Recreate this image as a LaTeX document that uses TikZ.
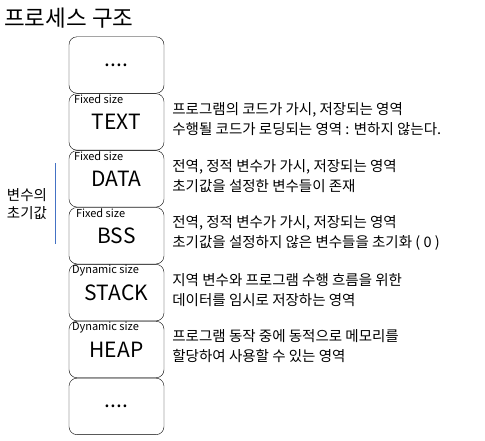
\documentclass[tikz,border=0pt]{standalone}
\usepackage{fontspec}
\setmainfont{Noto Sans CJK KR}
\usetikzlibrary{positioning}
\definecolor{markBlue}{RGB}{68,114,196}

\begin{document}
\begin{tikzpicture}[x=1pt,y=-1pt,
  seg/.style={rectangle,rounded corners=8pt,draw=black,minimum width=95pt,
              minimum height=56.5pt,inner sep=0pt,font=\fontsize{21}{23}\selectfont},
  sizetag/.style={anchor=north west,inner sep=0pt,font=\fontsize{11}{12}\selectfont},
  desc/.style={anchor=west,align=left,inner sep=0pt,font=\fontsize{14.5}{20}\selectfont},
  title/.style={anchor=west,inner sep=0pt,font=\fontsize{22.5}{24}\selectfont}
]
  \useasboundingbox (0,0) rectangle (485,440);
  \node[title](ttl) at (4,18) {프로세스 구조};
  % memory segments, top to bottom
  \node[seg](mtop) at (116.5,65) {....};
  \node[seg,below=0pt of mtop](mtext) {TEXT};
  \node[seg,below=0pt of mtext](mdata) {DATA};
  \node[seg,below=0pt of mdata](mbss) {BSS};
  \node[seg,below=0pt of mbss](mstack) {STACK};
  \node[seg,below=0pt of mstack](mheap) {HEAP};
  \node[seg,below=0pt of mheap](mbot) {....};
  % size tags
  \node[sizetag] at ([xshift=5pt,yshift=-1pt]mtext.north west) {Fixed size};
  \node[sizetag] at ([xshift=5pt,yshift=-1pt]mdata.north west) {Fixed size};
  \node[sizetag] at ([xshift=7pt,yshift=-1pt]mbss.north west) {Fixed size};
  \node[sizetag] at ([xshift=3pt,yshift=-1pt]mstack.north west) {Dynamic size};
  \node[sizetag] at ([xshift=3pt,yshift=-1pt]mheap.north west) {Dynamic size};
  % descriptions
  \node[desc] at ([xshift=8pt,yshift=3pt]mtext.east)
    {프로그램의 코드가 가시, 저장되는 영역\\수행될 코드가 로딩되는 영역 : 변하지 않는다.};
  \node[desc] at ([xshift=8pt,yshift=3pt]mdata.east)
    {전역, 정적 변수가 가시, 저장되는 영역\\초기값을 설정한 변수들이 존재};
  \node[desc] at ([xshift=8pt,yshift=3pt]mbss.east)
    {전역, 정적 변수가 가시, 저장되는 영역\\초기값을 설정하지 않은 변수들을 초기화 ( 0 )};
  \node[desc] at ([xshift=8pt,yshift=3pt]mstack.east)
    {지역 변수와 프로그램 수행 흐름을 위한\\데이터를 임시로 저장하는 영역};
  \node[desc] at ([xshift=8pt,yshift=3pt]mheap.east)
    {프로그램 동작 중에 동적으로 메모리를\\할당하여 사용할 수 있는 영역};
  % initial value marker
  \draw[markBlue] (55,163) -- (55,244);
  \node[align=center,inner sep=0pt,font=\fontsize{14.5}{18}\selectfont] at (27,204) {변수의\\초기값};
\end{tikzpicture}
\end{document}
